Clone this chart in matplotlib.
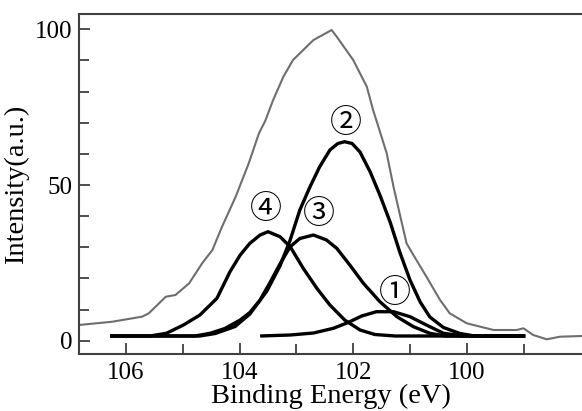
import matplotlib.pyplot as plt
from matplotlib.ticker import FixedLocator

# envelope (measured spectrum)
env_e = [106.83, 106.24, 105.72, 105.60, 105.30, 105.13, 104.89, 104.66, 104.48,
         104.31, 104.07, 103.84, 103.66, 103.55, 103.41, 103.23, 103.06, 102.94,
         102.70, 102.38, 102.29, 102.00, 101.76, 101.65, 101.56, 101.41, 101.29,
         101.18, 101.06, 100.94, 100.71, 100.47, 100.30, 100.00, 99.53, 99.12,
         99.00, 98.83, 98.59, 98.36, 97.97]
env_i = [5.04, 6.10, 7.71, 8.80, 14.13, 14.68, 18.43, 24.86, 29.13,
         36.61, 46.24, 56.97, 66.60, 70.55, 77.30, 84.78, 90.14, 92.29,
         96.56, 99.77, 97.62, 90.14, 81.57, 74.08, 68.95, 60.18, 49.45,
         40.69, 31.28, 27.52, 20.55, 13.07, 8.80, 5.59, 3.44, 3.44,
         3.98, 1.83, 0.45, 1.28, 1.51]

# fitted components
p1_e = [103.64, 103.11, 102.70, 102.35, 102.09, 101.85, 101.59, 101.29, 101.00,
        100.71, 100.41, 100.06, 98.97]
p1_i = [1.51, 1.83, 2.47, 3.98, 5.84, 7.93, 9.31, 9.31, 7.71,
        5.04, 2.38, 1.51, 1.51]

p2_e = [106.28, 104.70, 104.43, 104.08, 103.82, 103.52, 103.29, 103.11, 102.94,
        102.76, 102.59, 102.41, 102.27, 102.15, 102.02, 101.88, 101.70, 101.53,
        101.35, 101.18, 101.00, 100.82, 100.65, 100.41, 100.12, 99.86, 98.97]
p2_i = [1.51, 1.51, 2.31, 4.56, 8.57, 15.96, 23.99, 32.34, 41.97,
        49.45, 55.88, 61.24, 63.33, 63.90, 63.33, 60.60, 54.17, 46.79,
        38.12, 28.48, 19.49, 12.43, 7.61, 4.24, 2.31, 1.51, 1.51]

p3_e = [106.28, 104.79, 104.52, 104.26, 103.99, 103.82, 103.64, 103.47, 103.29,
        103.11, 102.94, 102.70, 102.47, 102.29, 102.06, 101.82, 101.53, 101.23,
        100.94, 100.65, 100.38, 98.97]
p3_i = [1.51, 1.51, 2.38, 3.92, 6.65, 9.06, 13.07, 18.53, 24.63,
        30.19, 32.82, 33.94, 32.34, 29.67, 24.31, 18.43, 12.52, 7.71,
        4.50, 2.38, 1.51, 1.51]

p4_e = [106.28, 105.58, 105.29, 104.99, 104.70, 104.40, 104.17, 103.99, 103.82,
        103.64, 103.50, 103.29, 103.11, 102.88, 102.64, 102.41, 102.15, 101.88,
        101.62, 101.26, 98.97]
p4_i = [1.51, 1.51, 2.38, 5.04, 8.25, 13.62, 22.16, 27.52, 31.28,
        33.94, 35.00, 33.40, 30.19, 23.25, 16.83, 11.46, 6.65, 3.44,
        1.99, 1.51, 1.51]

labels = ['①', '②', '③', '④']
label_e = [101.27, 102.13, 102.60, 103.53]
label_i = [15.3, 69.8, 40.4, 42.0]

x_major = [106, 104, 102, 100]
x_minor = [105, 103, 101, 99]

plt.rcParams['font.family'] = ['Liberation Serif', 'DejaVu Serif']

fig = plt.figure(figsize=(5.82, 4.11), dpi=100)
ax = fig.add_axes([0.1357, 0.1387, 0.8643, 0.8272])

ax.plot(env_e, env_i, color='#6e6e6e', lw=1.5)
for xs, ys in [(p1_e, p1_i), (p2_e, p2_i), (p3_e, p3_i), (p4_e, p4_i)]:
    ax.plot(xs, ys, color='black', lw=2.4, solid_capstyle='butt')

for t, x, y in zip(labels, label_e, label_i):
    ax.text(x, y, t, fontsize=23, ha='center', va='center',
            family=['DejaVu Serif', 'Noto Sans CJK JP'])

ax.set_xlim(106.83, 97.97)
ax.set_ylim(-4.27, 104.91)
ax.xaxis.set_major_locator(FixedLocator(x_major))
ax.xaxis.set_minor_locator(FixedLocator(x_minor))
ax.yaxis.set_major_locator(FixedLocator([0, 50, 100]))
ax.yaxis.set_minor_locator(FixedLocator([10, 20, 30, 40, 60, 70, 80, 90]))
ax.tick_params(which='both', direction='in', color='#404040', width=1.3,
               labelsize=18, top=False, right=False)
ax.tick_params(which='major', length=8)
ax.tick_params(which='minor', length=7)
ax.tick_params(axis='x', pad=6)
ax.tick_params(axis='y', pad=5)

for s in ['left', 'bottom', 'top']:
    ax.spines[s].set_color('#404040')
    ax.spines[s].set_linewidth(1.5)
ax.spines['right'].set_visible(False)

ax.set_xlabel('Binding Energy (eV)', fontsize=20.5, labelpad=0)
ax.set_ylabel('Intensity(a.u.)', fontsize=20.5, labelpad=4)

plt.savefig('out.png', dpi=100)
